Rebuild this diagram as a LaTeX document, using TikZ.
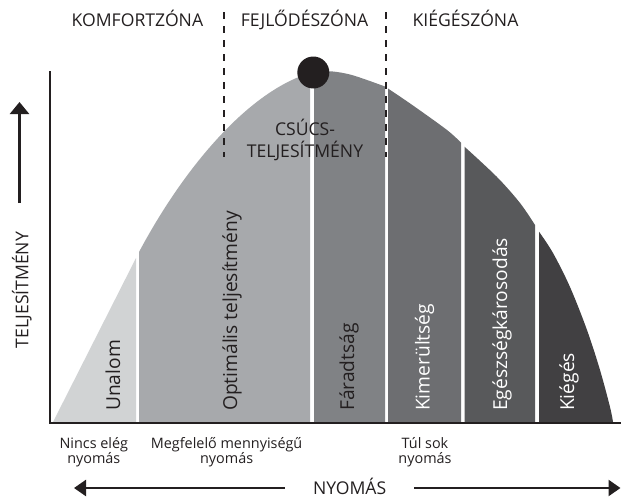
\documentclass[tikz,border=0pt]{standalone}
\usepackage{fontspec}
\setmainfont{Open Sans}
\usetikzlibrary{arrows.meta}
\definecolor{ink}{HTML}{231F20}
\definecolor{bandA}{HTML}{D1D3D4}
\definecolor{bandB}{HTML}{A7A9AC}
\definecolor{bandC}{HTML}{808285}
\definecolor{bandD}{HTML}{6D6E71}
\definecolor{bandE}{HTML}{58595B}
\definecolor{bandF}{HTML}{414042}
\tikzset{
  zonelabel/.style={font=\fontsize{17.6}{20}\selectfont, text=ink, inner sep=0pt, anchor=base},
  bandlabel/.style={font=\fontsize{19.2}{22}\selectfont, inner sep=0pt, rotate=90, anchor=base west},
  lowlabel/.style={font=\fontsize{14.4}{17}\selectfont, text=ink, inner sep=0pt, anchor=base},
  zoneline/.style={draw=ink, line width=2.3pt, dash pattern=on 7pt off 7pt},
  axisline/.style={draw=ink, line width=2.2pt},
  bigarrow/.style={draw=ink, line width=2.4pt, -{Triangle[length=12pt,width=16pt]}},
}
\begin{document}
\begin{tikzpicture}[x=1pt,y=-1pt]
\useasboundingbox (0,0) rectangle (621,498);

% bands
\fill[bandA] (53,422) -- (136,258) -- (136,422) -- cycle;
\fill[bandB] (139,422) -- (139,252) .. controls (186,164) and (250,91) .. (310,73) -- (310,422) -- cycle;
\fill[bandC] (314,422) -- plot[smooth,tension=0.55] coordinates {(314,71) (333,71.5) (350,74.5) (367,80) (385,86.5)} -- (385,422) -- cycle;
\fill[bandD] (388,422) -- plot[smooth,tension=0.55] coordinates {(388,88.5) (413,105.5) (447,130) (461,142.7)} -- (461,422) -- cycle;
\fill[bandE] (464.5,422) -- plot[smooth,tension=0.55] coordinates {(464.5,146.7) (497,177) (520,203) (535,225)} -- (535,422) -- cycle;
\fill[bandF] (539,422) -- plot[smooth,tension=0.55] coordinates {(539,231.7) (553,253) (570,287) (587,330) (600,370) (610,407) (613,422)} -- cycle;

% zone separators
\coordinate (zl1) at (224.3,12);
\coordinate (zl2) at (224.3,157);
\coordinate (zr1) at (386,12);
\coordinate (zr2) at (386,157);
\draw[zoneline] (zl1) -- (zl2);
\draw[zoneline] (zr1) -- (zr2);

% peak dot
\node[circle, fill=ink, minimum size=32pt, inner sep=0pt] (peak) at (313.3,72.5) {};

% axes
\coordinate (ytop) at (50,71);
\coordinate (origin) at (50,423);
\coordinate (xend) at (621,423);
\draw[axisline] (ytop) -- (origin) -- (xend);

% zone labels
\node[zonelabel] (komfort) at (137.4,26.7) {KOMFORTZÓNA};
\node[zonelabel] (fejlodes) at (304.5,26.7) {FEJLŐDÉSZÓNA};
\node[zonelabel] (kieges) at (465.5,26.7) {KIÉGÉSZÓNA};

% peak label
\node[zonelabel] (csucs1) at (305,135) {CSÚCS-};
\node[zonelabel] (csucs2) at (305,157.3) {TELJESÍTMÉNY};

% band labels
\node[bandlabel, text=ink] (unalom) at (120,411) {Unalom};
\node[bandlabel, text=ink] (optimalis) at (237,411) {Optimális teljesítmény};
\node[bandlabel, text=ink] (faradtsag) at (354,411) {Fáradtság};
\node[bandlabel, text=white] (kimerultseg) at (429.5,411) {Kimerültség};
\node[bandlabel, text=white] (egeszseg) at (507,411) {Egészségkárosodás};
\node[bandlabel, text=white] (kieges2) at (574,411) {Kiégés};

% y axis label and arrow
\node[zonelabel, rotate=90, anchor=base] (teljesitmeny) at (28.3,290) {TELJESÍTMÉNY};
\coordinate (ya1) at (19.5,203);
\coordinate (ya2) at (19.5,102);
\draw[bigarrow, -{Triangle[length=12pt,width=19pt]}] (ya1) -- (ya2);

% bottom labels
\node[lowlabel] (nincs1) at (93.8,448.3) {Nincs elég};
\node[lowlabel] (nincs2) at (93.8,463) {nyomás};
\node[lowlabel] (megf1) at (226.6,448.3) {Megfelelő mennyiségű};
\node[lowlabel] (megf2) at (226.6,463) {nyomás};
\node[lowlabel] (tul1) at (425,448.3) {Túl sok};
\node[lowlabel] (tul2) at (425,463) {nyomás};

% x axis label and arrows
\node[zonelabel] (nyomas) at (349.6,494) {NYOMÁS};
\coordinate (xa1) at (284.7,488);
\coordinate (xa2) at (74,488);
\coordinate (xb1) at (414.4,488);
\coordinate (xb2) at (620.5,488);
\draw[bigarrow] (xa1) -- (xa2);
\draw[bigarrow] (xb1) -- (xb2);
\end{tikzpicture}
\end{document}
